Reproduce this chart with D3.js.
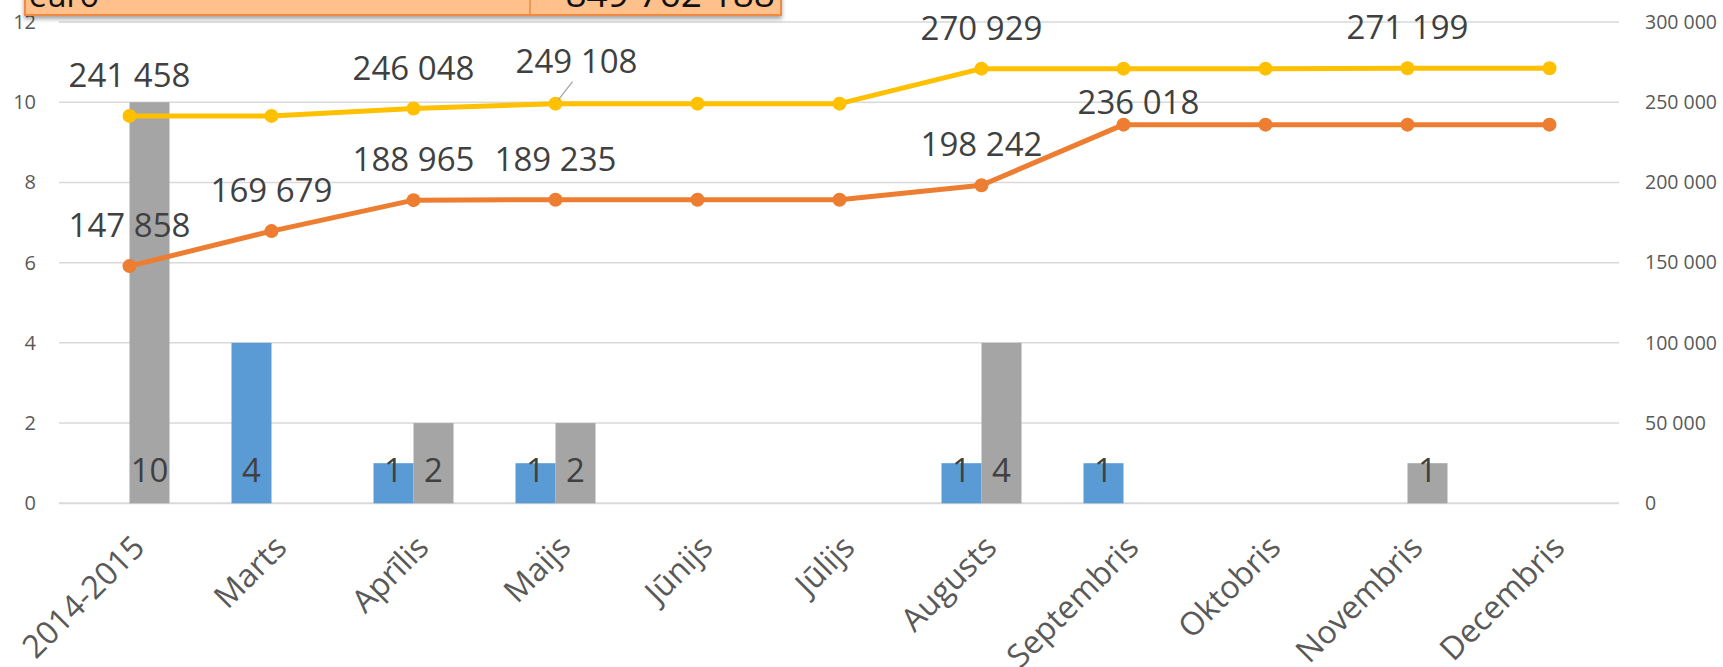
<!DOCTYPE html>
<html>
<head>
<meta charset="utf-8">
<script src="https://cdn.jsdelivr.net/npm/d3@7"></script>
<style>
  html, body { margin: 0; padding: 0; background: #ffffff; }
  svg { display: block; }
</style>
</head>
<body>
<svg id="chart" width="1723" height="667"></svg>
<script>
// ---------------- DATA ----------------
const categories = ["2014-2015", "Marts", "Aprīlis", "Maijs", "Jūnijs", "Jūlijs", "Augusts", "Septembris", "Oktobris", "Novembris", "Decembris"];
const blueCounts = [0, 4, 1, 1, 0, 0, 1, 1, 0, 0, 0];
const greyCounts = [10, 0, 2, 2, 0, 0, 4, 0, 0, 1, 0];
const yellowValues = [241458, 241458, 246048, 249108, 249108, 249108, 270929, 270929, 270929, 271199, 271199];
const orangeValues = [147858, 169679, 188965, 189235, 189235, 189235, 198242, 236018, 236018, 236018, 236018];
const yellowLabeled = [true, false, true, true, false, false, true, false, false, true, false];
const orangeLabeled = [true, true, true, true, false, false, true, true, false, false, false];
const leftTicks = [0, 2, 4, 6, 8, 10, 12];
const rightTicks = [0, 50000, 100000, 150000, 200000, 250000, 300000];
const tableCells = ["euro", "849 762 188"];

// ---------------- SETUP ----------------
const svg = d3.select("#chart");
const locale = d3.formatLocale({ decimal: ",", thousands: " ", grouping: [3], currency: ["", ""] });
const fmt = locale.format(",");

const plotLeft = 58.5, plotRight = 1620.5, yBottom = 503.3, yTop = 22;
const x = d3.scaleBand().domain(categories).range([plotLeft, plotRight]).paddingInner(0).paddingOuter(0);
const bw = x.bandwidth();
const cx = c => x(c) + bw / 2;
const yL = d3.scaleLinear().domain([0, 12]).range([yBottom, yTop]);
const yR = d3.scaleLinear().domain([0, 300000]).range([yBottom, yTop]);
const xs = d3.scaleBand().domain(["blue", "grey"]).range([bw / 2 - 40, bw / 2 + 40]);

const defs = svg.append("defs");
const f = defs.append("filter").attr("id", "shadow").attr("x", "-5%").attr("y", "-50%").attr("width", "110%").attr("height", "200%");
f.append("feDropShadow").attr("dx", 0).attr("dy", 3).attr("stdDeviation", 2).attr("flood-color", "#000").attr("flood-opacity", 0.35);

// ---------------- GRIDLINES ----------------
svg.append("g").selectAll("line").data(leftTicks).join("line")
  .attr("x1", 59).attr("x2", 1619)
  .attr("y1", d => yL(d)).attr("y2", d => yL(d))
  .attr("stroke", "#D9D9D9").attr("stroke-width", d => d === 0 ? 2 : 1.5);

// ---------------- AXES ----------------
const axL = svg.append("g").attr("transform", "translate(59,0)")
  .call(d3.axisLeft(yL).tickValues(leftTicks).tickSize(0).tickPadding(23));
axL.select(".domain").remove();
axL.selectAll("text").attr("font-family", "'Open Sans', sans-serif").attr("font-size", 20).attr("fill", "#595959");

const axR = svg.append("g").attr("transform", "translate(1619,0)")
  .call(d3.axisRight(yR).tickValues(rightTicks).tickSize(0).tickPadding(26).tickFormat(fmt));
axR.select(".domain").remove();
axR.selectAll("text").attr("font-family", "'Open Sans', sans-serif").attr("font-size", 19.5).attr("fill", "#595959");

const axB = svg.append("g").attr("transform", `translate(0,${yBottom})`)
  .call(d3.axisBottom(x).tickSize(0));
axB.select(".domain").remove();
axB.selectAll("text")
  .attr("font-family", "'Open Sans', sans-serif").attr("font-size", 32).attr("fill", "#595959")
  .attr("x", 0).attr("y", 0).attr("dy", 0)
  .attr("text-anchor", "end")
  .attr("transform", "translate(17,46) rotate(-45)");

// ---------------- BARS ----------------
const barSeries = [
  { key: "blue", values: blueCounts, color: "#5B9BD5" },
  { key: "grey", values: greyCounts, color: "#A5A5A5" }
];
barSeries.forEach(s => {
  const g = svg.append("g");
  const data = categories.map((c, i) => ({ c, v: s.values[i] }));
  g.selectAll("rect").data(data.filter(d => d.v > 0)).join("rect")
    .attr("x", d => x(d.c) + xs(s.key))
    .attr("width", xs.bandwidth())
    .attr("y", d => yL(d.v))
    .attr("height", d => yL(0) - yL(d.v))
    .attr("fill", s.color);
  g.selectAll("text").data(data.filter(d => d.v > 0)).join("text")
    .attr("x", d => x(d.c) + xs(s.key) + xs.bandwidth() / 2)
    .attr("y", yL(0) - 21)
    .attr("text-anchor", "middle")
    .attr("font-family", "'Open Sans', sans-serif").attr("font-size", 33).attr("fill", "#404040")
    .text(d => d.v);
});

// ---------------- LINES ----------------
const lineSeries = [
  { key: "orange", values: orangeValues, labeled: orangeLabeled, color: "#ED7D31" },
  { key: "yellow", values: yellowValues, labeled: yellowLabeled, color: "#FFC000" }
];
const line = d3.line().x(d => cx(d.c)).y(d => yR(d.v));
lineSeries.forEach(s => {
  const data = categories.map((c, i) => ({ c, v: s.values[i], lab: s.labeled[i], i }));
  const g = svg.append("g");
  g.append("path").datum(data).attr("d", line)
    .attr("fill", "none").attr("stroke", s.color).attr("stroke-width", 5)
    .attr("stroke-linejoin", "round").attr("stroke-linecap", "round");
  g.selectAll("circle").data(data).join("circle")
    .attr("cx", d => cx(d.c)).attr("cy", d => yR(d.v)).attr("r", 7)
    .attr("fill", s.color);
});

// labels (drawn on top)
const nudge = { "yellow-3": { dx: 21, dy: -2, leader: true }, "orange-7": { dx: 15, dy: 18 } };
const labG = svg.append("g");
lineSeries.forEach(s => {
  categories.forEach((c, i) => {
    if (!s.labeled[i]) return;
    const n = nudge[s.key + "-" + i] || { dx: 0, dy: 0 };
    const px = cx(c), py = yR(s.values[i]);
    if (n.leader) {
      labG.append("line").attr("x1", px + 3).attr("y1", py - 4).attr("x2", px + 17).attr("y2", py - 22)
        .attr("stroke", "#A6A6A6").attr("stroke-width", 1.3);
    }
    labG.append("text")
      .attr("x", px + n.dx).attr("y", py - 29 + n.dy)
      .attr("text-anchor", "middle")
      .attr("font-family", "'Open Sans', sans-serif").attr("font-size", 33).attr("fill", "#404040")
      .text(fmt(s.values[i]));
  });
});

// ---------------- TOP TABLE FRAGMENT ----------------
const tb = svg.append("g");
tb.append("rect").attr("x", 25).attr("y", -20).attr("width", 756).attr("height", 35)
  .attr("fill", "#FFC08B").attr("stroke", "#F08A42").attr("stroke-width", 2).attr("filter", "url(#shadow)");
tb.append("line").attr("x1", 530).attr("x2", 530).attr("y1", -20).attr("y2", 15)
  .attr("stroke", "#F08A42").attr("stroke-width", 1.5);
tb.append("text").attr("x", 29).attr("y", 7).attr("font-family", "'Open Sans', sans-serif")
  .attr("font-size", 32).attr("fill", "#111").text(tableCells[0]);
tb.append("text").attr("x", 775).attr("y", 7).attr("text-anchor", "end").attr("font-family", "'Open Sans', sans-serif")
  .attr("font-size", 37).attr("fill", "#111").text(tableCells[1]);
</script>
</body>
</html>
